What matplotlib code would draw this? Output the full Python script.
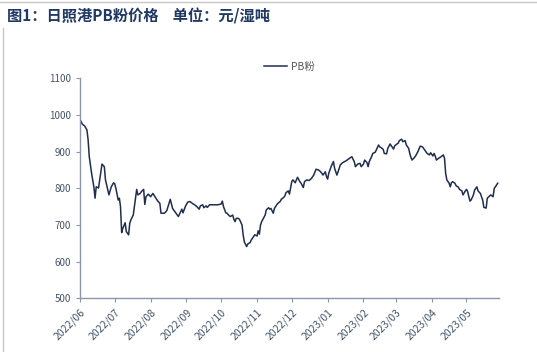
import matplotlib
matplotlib.use("Agg")
import matplotlib.pyplot as plt
import matplotlib.dates as mdates
import pandas as pd
from matplotlib.lines import Line2D

plt.rcParams["font.family"] = ["Noto Sans CJK SC", "DejaVu Sans"]

TITLE = "图1：日照港PB粉价格    单位：元/湿吨"
SERIES_NAME = "PB粉"

dates = [
    "2022-06-01", "2022-06-03", "2022-06-05", "2022-06-07", "2022-06-08", "2022-06-09",
    "2022-06-11", "2022-06-13", "2022-06-14", "2022-06-15", "2022-06-17", "2022-06-18",
    "2022-06-20", "2022-06-22", "2022-06-23", "2022-06-25", "2022-06-26", "2022-06-28",
    "2022-06-30", "2022-07-01", "2022-07-02", "2022-07-04", "2022-07-05", "2022-07-06",
    "2022-07-07", "2022-07-08", "2022-07-10", "2022-07-11", "2022-07-13", "2022-07-14",
    "2022-07-15", "2022-07-17", "2022-07-18", "2022-07-20", "2022-07-21", "2022-07-23",
    "2022-07-24", "2022-07-26", "2022-07-27", "2022-07-28", "2022-07-30", "2022-08-01",
    "2022-08-03", "2022-08-05", "2022-08-07", "2022-08-09", "2022-08-10", "2022-08-13",
    "2022-08-15", "2022-08-18", "2022-08-19", "2022-08-20", "2022-08-23", "2022-08-25",
    "2022-08-28", "2022-08-29", "2022-08-31", "2022-09-02", "2022-09-04", "2022-09-06",
    "2022-09-08", "2022-09-10", "2022-09-12", "2022-09-13", "2022-09-15", "2022-09-16",
    "2022-09-18", "2022-09-19", "2022-09-21", "2022-09-23", "2022-09-25", "2022-09-28",
    "2022-10-01", "2022-10-02", "2022-10-03", "2022-10-05", "2022-10-06", "2022-10-08",
    "2022-10-09", "2022-10-11", "2022-10-12", "2022-10-13", "2022-10-14", "2022-10-16",
    "2022-10-17", "2022-10-19", "2022-10-20", "2022-10-21", "2022-10-23", "2022-10-24",
    "2022-10-26", "2022-10-27", "2022-10-29", "2022-10-30", "2022-11-01", "2022-11-02",
    "2022-11-03", "2022-11-04", "2022-11-05", "2022-11-06", "2022-11-08", "2022-11-09",
    "2022-11-11", "2022-11-12", "2022-11-13", "2022-11-15", "2022-11-16", "2022-11-18",
    "2022-11-19", "2022-11-21", "2022-11-22", "2022-11-24", "2022-11-25", "2022-11-26",
    "2022-11-28", "2022-11-29", "2022-12-01", "2022-12-02", "2022-12-04", "2022-12-05",
    "2022-12-06", "2022-12-08", "2022-12-09", "2022-12-11", "2022-12-12", "2022-12-14",
    "2022-12-16", "2022-12-18", "2022-12-20", "2022-12-22", "2022-12-24", "2022-12-25",
    "2022-12-27", "2022-12-28", "2022-12-30", "2022-12-31", "2023-01-01", "2023-01-02",
    "2023-01-04", "2023-01-06", "2023-01-07", "2023-01-09", "2023-01-10", "2023-01-12",
    "2023-01-14", "2023-01-17", "2023-01-20", "2023-01-22", "2023-01-23", "2023-01-24",
    "2023-01-25", "2023-01-27", "2023-01-29", "2023-01-30", "2023-02-01", "2023-02-02",
    "2023-02-04", "2023-02-05", "2023-02-06", "2023-02-08", "2023-02-09", "2023-02-11",
    "2023-02-12", "2023-02-14", "2023-02-15", "2023-02-17", "2023-02-18", "2023-02-19",
    "2023-02-21", "2023-02-22", "2023-02-24", "2023-02-25", "2023-02-27", "2023-02-28",
    "2023-03-02", "2023-03-03", "2023-03-04", "2023-03-06", "2023-03-07", "2023-03-09",
    "2023-03-10", "2023-03-12", "2023-03-13", "2023-03-14", "2023-03-15", "2023-03-17",
    "2023-03-18", "2023-03-20", "2023-03-22", "2023-03-24", "2023-03-26", "2023-03-28",
    "2023-03-30", "2023-03-31", "2023-04-02", "2023-04-03", "2023-04-04", "2023-04-05",
    "2023-04-07", "2023-04-09", "2023-04-11", "2023-04-12", "2023-04-13", "2023-04-14",
    "2023-04-16", "2023-04-17", "2023-04-18", "2023-04-19", "2023-04-21", "2023-04-22",
    "2023-04-24", "2023-04-25", "2023-04-27", "2023-04-28", "2023-04-30", "2023-05-01",
    "2023-05-02", "2023-05-04", "2023-05-05", "2023-05-07", "2023-05-08", "2023-05-10",
    "2023-05-11", "2023-05-13", "2023-05-14", "2023-05-15", "2023-05-16", "2023-05-18",
    "2023-05-19", "2023-05-21", "2023-05-22", "2023-05-24", "2023-05-25", "2023-05-26",
    "2023-05-28",
]

prices = [
    988, 975, 970, 959, 932, 886,
    841, 803, 773, 804, 801, 823,
    866, 859, 823, 795, 782, 804,
    815, 812, 800, 768, 773, 750,
    679, 691, 706, 682, 673, 705,
    714, 727, 750, 797, 782, 786,
    791, 797, 756, 777, 784, 777,
    786, 776, 766, 759, 732, 732,
    739, 770, 757, 745, 732, 723,
    743, 733, 750, 762, 764, 759,
    755, 750, 743, 752, 755, 747,
    752, 748, 755, 755, 755, 755,
    757, 765, 750, 733, 732, 725,
    723, 727, 715, 709, 718, 718,
    714, 700, 673, 654, 641, 648,
    652, 659, 668, 673, 670, 684,
    675, 700, 709, 715, 727, 741,
    747, 743, 745, 732, 745, 755,
    759, 764, 770, 775, 779, 788,
    793, 784, 818, 823, 815, 823,
    830, 818, 814, 802, 818, 823,
    821, 827, 836, 852, 850, 848,
    841, 836, 845, 832, 825, 841,
    859, 873, 855, 836, 845, 864,
    870, 875, 882, 886, 879, 873,
    859, 866, 868, 859, 866, 877,
    870, 859, 873, 886, 895, 898,
    904, 918, 913, 909, 906, 895,
    894, 909, 921, 916, 907, 916,
    921, 923, 930, 934, 927, 930,
    918, 909, 895, 884, 877, 884,
    888, 900, 915, 913, 904, 895,
    891, 897, 888, 895, 888, 877,
    882, 886, 891, 882, 841, 823,
    814, 804, 815, 818, 814, 807,
    803, 797, 793, 782, 793, 797,
    791, 765, 768, 782, 795, 804,
    793, 786, 777, 768, 748, 746,
    773, 779, 782, 777, 800, 804,
    814,
]

y_ticks = [500, 600, 700, 800, 900, 1000, 1100]

LINE_COLOR = "#1f2d50"
AXIS_COLOR = "#8c96a8"
TICK_TEXT = "#44546a"
TITLE_COLOR = "#1f3864"


def main() -> None:
    x = pd.to_datetime(dates)

    fig = plt.figure(figsize=(5.37, 3.52), dpi=100, facecolor="white")
    ax = fig.add_axes([0.149, 0.1526, 0.78, 0.625])

    ax.plot(x, prices, color=LINE_COLOR, linewidth=1.1, label=SERIES_NAME)

    ax.set_ylim(500, 1100)
    ax.set_yticks(y_ticks)
    ax.set_xlim(pd.Timestamp("2022-06-01"), pd.Timestamp("2023-05-29"))
    ax.xaxis.set_major_locator(mdates.MonthLocator(bymonthday=1))
    ax.xaxis.set_major_formatter(mdates.DateFormatter("%Y/%m"))

    for side in ("top", "right"):
        ax.spines[side].set_visible(False)
    for side in ("left", "bottom"):
        ax.spines[side].set_color(AXIS_COLOR)
        ax.spines[side].set_linewidth(1.0)

    ax.tick_params(axis="both", colors=AXIS_COLOR, length=3, width=0.8,
                   labelcolor=TICK_TEXT, labelsize=7)
    ax.tick_params(axis="x", labelsize=7.5)
    for lbl in ax.get_xticklabels():
        lbl.set_rotation(45)
        lbl.set_ha("right")
        lbl.set_rotation_mode("anchor")

    leg = ax.legend(loc="lower center", bbox_to_anchor=(0.5, 1.0), frameon=False,
                    fontsize=7.5, handlelength=2.2, handletextpad=0.4,
                    borderaxespad=0.2)
    for t in leg.get_texts():
        t.set_color("#595959")

    fig.text(0.013, 0.952, TITLE, fontsize=11, fontweight="bold",
             color=TITLE_COLOR, ha="left", va="center")

    # thin gray frame lines from the report page
    fig.add_artist(Line2D([0, 1], [0.993, 0.993], color="#c8c8c8", linewidth=1.0))
    fig.add_artist(Line2D([0.006, 0.006], [0, 0.92], color="#c8c8c8", linewidth=1.0))

    fig.savefig("out.png", dpi=100, facecolor="white")
    plt.close(fig)


if __name__ == "__main__":
    main()
